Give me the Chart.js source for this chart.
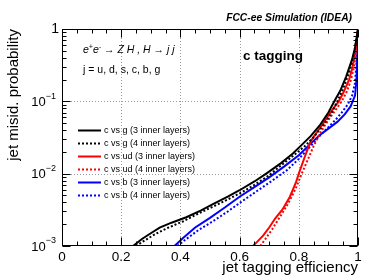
<!DOCTYPE html>
<html>
<head>
<meta charset="utf-8">
<script src="https://cdn.jsdelivr.net/npm/chart.js@4.4.1/dist/chart.umd.min.js"></script>
<style>
  body { margin: 0; background: #fff; }
</style>
</head>
<body>
<canvas id="grafico" width="390" height="280"></canvas>
<script>
// eixos
const xTicks = [0, 0.2, 0.4, 0.6, 0.8, 1];
const xTickLabels = ['0', '0.2', '0.4', '0.6', '0.8', '1'];
const yTicks = [0.001, 0.01, 0.1, 1];
const yTickExp = ['-3', '-2', '-1', ''];

// c vs g (3 inner layers)
const effCG3 = [0.24, 0.27, 0.30, 0.33, 0.37, 0.42, 0.47, 0.51, 0.56, 0.60, 0.65, 0.69, 0.74, 0.78, 0.81, 0.84, 0.87, 0.90, 0.92, 0.94, 0.96, 0.98, 0.99, 1.0];
const misCG3 = [0.001, 0.00125, 0.0015, 0.0018, 0.0021, 0.0025, 0.0031, 0.0038, 0.0048, 0.0059, 0.0078, 0.010, 0.014, 0.019, 0.025, 0.033, 0.046, 0.070, 0.10, 0.14, 0.22, 0.38, 0.55, 1.0];
// c vs g (4 inner layers)
const effCG4 = [0.25, 0.28, 0.32, 0.36, 0.41, 0.46, 0.51, 0.56, 0.61, 0.65, 0.70, 0.74, 0.78, 0.82, 0.85, 0.88, 0.91, 0.93, 0.95, 0.97, 0.98, 0.99, 1.0];
const misCG4 = [0.001, 0.0012, 0.0015, 0.0018, 0.0022, 0.0028, 0.0035, 0.0044, 0.0056, 0.0070, 0.0095, 0.013, 0.0175, 0.024, 0.032, 0.045, 0.068, 0.10, 0.15, 0.25, 0.35, 0.55, 1.0];
// c vs ud (3 inner layers)
const effCUD3 = [0.645, 0.66, 0.68, 0.70, 0.72, 0.745, 0.77, 0.79, 0.80, 0.82, 0.84, 0.86, 0.88, 0.90, 0.92, 0.935, 0.95, 0.97, 0.98, 0.99, 1.0];
const misCUD3 = [0.001, 0.00115, 0.0014, 0.0018, 0.0024, 0.0032, 0.0048, 0.0075, 0.010, 0.017, 0.028, 0.037, 0.048, 0.064, 0.083, 0.10, 0.13, 0.20, 0.28, 0.45, 1.0];
// c vs ud (4 inner layers)
const effCUD4 = [0.67, 0.69, 0.71, 0.73, 0.75, 0.77, 0.79, 0.81, 0.83, 0.85, 0.87, 0.89, 0.91, 0.93, 0.945, 0.96, 0.975, 0.985, 0.995, 1.0];
const misCUD4 = [0.001, 0.0013, 0.0017, 0.0023, 0.0031, 0.0043, 0.0063, 0.010, 0.0155, 0.024, 0.035, 0.048, 0.063, 0.082, 0.10, 0.13, 0.19, 0.28, 0.50, 1.0];
// c vs b (3 inner layers)
const effCB3 = [0.38, 0.41, 0.45, 0.50, 0.55, 0.60, 0.65, 0.70, 0.75, 0.80, 0.84, 0.87, 0.90, 0.93, 0.955, 0.975, 0.99, 0.995, 0.998, 1.0];
const misCB3 = [0.001, 0.0013, 0.0018, 0.00245, 0.0034, 0.0048, 0.0065, 0.0089, 0.0125, 0.018, 0.026, 0.034, 0.042, 0.052, 0.066, 0.085, 0.12, 0.20, 0.50, 1.0];
// c vs b (4 inner layers)
const effCB4 = [0.39, 0.42, 0.46, 0.51, 0.56, 0.61, 0.66, 0.71, 0.76, 0.80, 0.84, 0.87, 0.90, 0.925, 0.945, 0.965, 0.98, 0.99, 0.996, 1.0];
const misCB4 = [0.001, 0.00125, 0.00165, 0.0022, 0.0030, 0.0042, 0.0058, 0.0080, 0.0112, 0.016, 0.024, 0.033, 0.044, 0.056, 0.070, 0.090, 0.12, 0.18, 0.40, 1.0];

const FONTE = '"Liberation Sans", Arial, Helvetica, sans-serif';

function pontos(xs, ys) {
  return xs.map((x, i) => ({ x: x, y: ys[i] }));
}

function serie(label, xs, ys, cor, pontilhado) {
  return {
    label: label,
    data: pontos(xs, ys),
    borderColor: cor,
    backgroundColor: cor,
    borderWidth: 2,
    borderDash: pontilhado ? [2, 2] : [],
    pointRadius: 0,
    tension: 0,
    fill: false
  };
}

// grade pontilhada, moldura, marcas de escala, legenda e textos
const molduraROOT = {
  id: 'molduraROOT',
  beforeDatasetsDraw(chart) {
    const { ctx, chartArea: a, scales: { x, y } } = chart;
    ctx.save();
    ctx.strokeStyle = '#9a9a9a';
    ctx.lineWidth = 1;
    ctx.setLineDash([1, 2]);
    xTicks.slice(1, -1).forEach(v => {
      const px = Math.round(x.getPixelForValue(v)) + 0.5;
      ctx.beginPath(); ctx.moveTo(px, a.top); ctx.lineTo(px, a.bottom); ctx.stroke();
    });
    yTicks.slice(1, -1).forEach(v => {
      const py = Math.round(y.getPixelForValue(v)) + 0.5;
      ctx.beginPath(); ctx.moveTo(a.left, py); ctx.lineTo(a.right, py); ctx.stroke();
    });
    ctx.restore();
  },
  afterDatasetsDraw(chart) {
    const { ctx, chartArea: a, scales: { x, y } } = chart;
    ctx.save();
    ctx.strokeStyle = '#000';
    ctx.lineWidth = 1;
    ctx.setLineDash([]);
    const L = Math.round(a.left) + 0.5, R = Math.round(a.right) - 0.5;
    const T = Math.round(a.top) + 0.5, B = Math.round(a.bottom) - 0.5;
    ctx.strokeRect(L, T, R - L, B - T);

    // marcas em x
    for (let i = 0; i <= 20; i++) {
      const v = i * 0.05;
      const px = Math.round(x.getPixelForValue(v)) + 0.5;
      const len = (i % 4 === 0) ? 8 : 4;
      ctx.beginPath();
      ctx.moveTo(px, B); ctx.lineTo(px, B - len);
      ctx.moveTo(px, T); ctx.lineTo(px, T + len);
      ctx.stroke();
    }
    // marcas em y (log)
    for (let d = -3; d <= 0; d++) {
      for (let m = 1; m <= 9; m++) {
        const v = m * Math.pow(10, d);
        if (v > 1.0001) break;
        const py = Math.round(y.getPixelForValue(v)) + 0.5;
        const len = (m === 1) ? 8 : 4;
        ctx.beginPath();
        ctx.moveTo(L, py); ctx.lineTo(L + len, py);
        ctx.moveTo(R, py); ctx.lineTo(R - len, py);
        ctx.stroke();
      }
    }

    // rotulos do eixo y
    ctx.fillStyle = '#000';
    ctx.textBaseline = 'middle';
    yTicks.forEach((v, i) => {
      const py = y.getPixelForValue(v);
      if (yTickExp[i] === '') {
        ctx.font = '14px ' + FONTE;
        ctx.textAlign = 'right';
        ctx.fillText('1', 59, py);
      } else {
        ctx.font = '9px ' + FONTE;
        ctx.textAlign = 'right';
        const exp = yTickExp[i].replace('-', '\u2212');
        ctx.fillText(exp, 56, py - 5);
        const we = ctx.measureText(exp).width;
        ctx.font = '13px ' + FONTE;
        ctx.fillText('10', 56 - we, py + 1);
      }
    });

    // legenda
    const entradas = chart.data.datasets;
    const linhaY = [130, 143, 156, 169, 182, 195];
    ctx.font = '9px ' + FONTE;
    ctx.textAlign = 'left';
    entradas.forEach((ds, i) => {
      const yy = linhaY[i] + 0.5;
      ctx.strokeStyle = ds.borderColor;
      ctx.lineWidth = 2;
      ctx.setLineDash(ds.borderDash);
      ctx.beginPath(); ctx.moveTo(78, yy); ctx.lineTo(101, yy); ctx.stroke();
      ctx.fillStyle = '#000';
      ctx.fillText(ds.label, 104, yy);
    });
    ctx.setLineDash([]);

    // textos
    ctx.textBaseline = 'alphabetic';
    ctx.fillStyle = '#000';
    ctx.textAlign = 'right';
    ctx.font = 'italic bold 10.3px ' + FONTE;
    ctx.fillText('FCC-ee Simulation (IDEA)', 352, 21);

    ctx.textAlign = 'left';
    ctx.font = 'bold 13.5px ' + FONTE;
    ctx.fillText('c tagging', 243, 60);

    let cx = 83;
    const by = 53;
    const partes = [['e', 0], ['+', 1], ['e', 0], ['-', 1], [' \u2192 Z H , H \u2192 j j', 0]];
    partes.forEach(p => {
      ctx.font = p[1] ? 'italic 7px ' + FONTE : 'italic 10.5px ' + FONTE;
      ctx.fillText(p[0], cx, p[1] ? by - 4 : by);
      cx += ctx.measureText(p[0]).width;
    });
    ctx.font = '10.5px ' + FONTE;
    ctx.fillText('j = u, d, s, c, b, g', 83, 73);
    ctx.restore();
  }
};

const grafico = new Chart(document.getElementById('grafico'), {
  type: 'line',
  data: {
    datasets: [
      serie('c vs g (3 inner layers)', effCG3, misCG3, '#000000', false),
      serie('c vs g (4 inner layers)', effCG4, misCG4, '#000000', true),
      serie('c vs ud (3 inner layers)', effCUD3, misCUD3, '#ff0000', false),
      serie('c vs ud (4 inner layers)', effCUD4, misCUD4, '#ff0000', true),
      serie('c vs b (3 inner layers)', effCB3, misCB3, '#0000ff', false),
      serie('c vs b (4 inner layers)', effCB4, misCB4, '#0000ff', true)
    ]
  },
  options: {
    responsive: false,
    animation: false,
    layout: { padding: { top: 29, right: 32, left: 0, bottom: 0 } },
    plugins: { legend: { display: false }, tooltip: { enabled: false } },
    scales: {
      x: {
        type: 'linear',
        min: 0,
        max: 1,
        afterBuildTicks: (s) => { s.ticks = xTicks.map(v => ({ value: v })); },
        afterFit: (s) => { s.height = 34; },
        grid: { display: false, drawTicks: false },
        border: { display: false },
        ticks: {
          color: '#000',
          padding: 3,
          maxRotation: 0,
          autoSkip: false,
          font: { family: FONTE, size: 13.5 },
          callback: (v) => xTickLabels[xTicks.indexOf(v)]
        },
        title: {
          display: true,
          text: 'jet tagging efficiency',
          align: 'end',
          color: '#000',
          font: { family: FONTE, size: 15 },
          padding: { top: 0, bottom: 3 }
        }
      },
      y: {
        type: 'logarithmic',
        min: 0.001,
        max: 1,
        afterBuildTicks: (s) => { s.ticks = yTicks.map(v => ({ value: v })); },
        afterFit: (s) => { s.width = 62; },
        grid: { display: false, drawTicks: false },
        border: { display: false },
        ticks: { display: false },
        title: {
          display: true,
          text: 'jet misid. probability',
          align: 'end',
          color: '#000',
          font: { family: FONTE, size: 15 },
          padding: { top: 5, bottom: 0 }
        }
      }
    }
  },
  plugins: [molduraROOT]
});
</script>
</body>
</html>
